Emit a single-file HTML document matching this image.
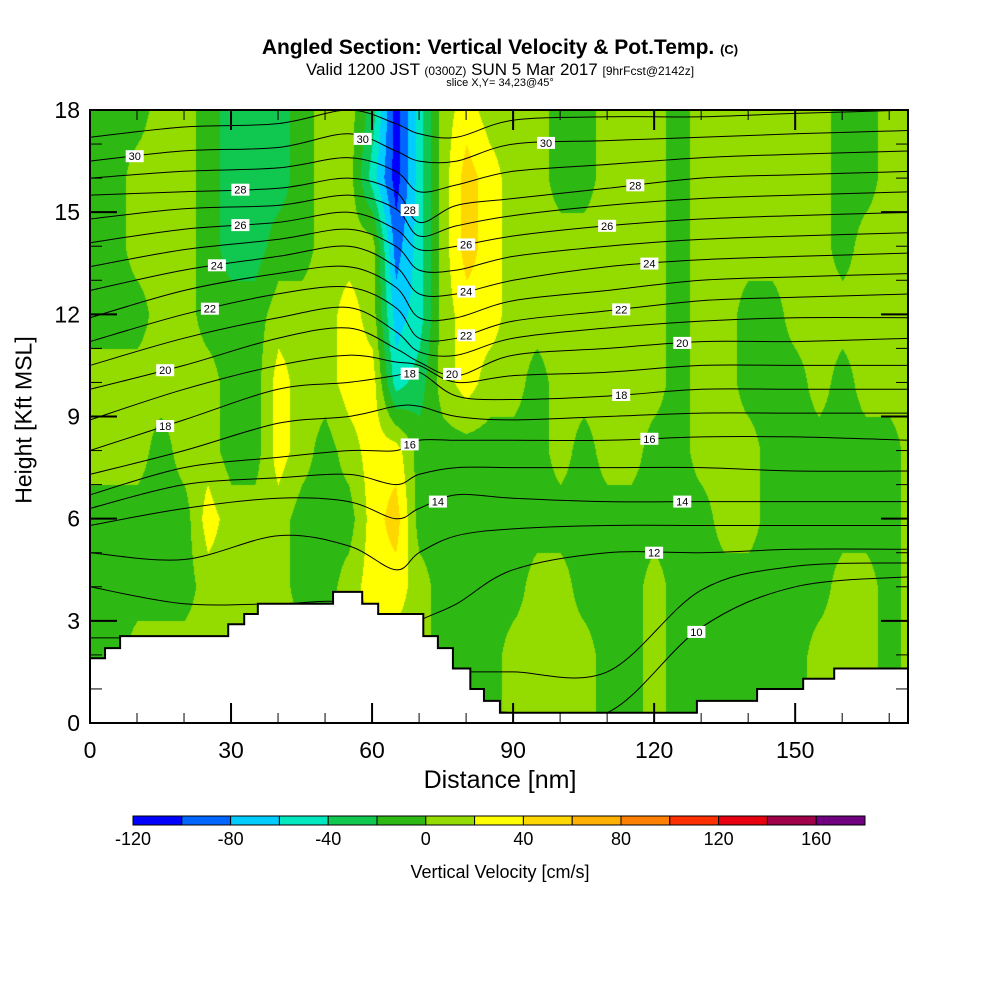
<!DOCTYPE html>
<html><head><meta charset="utf-8">
<style>
html,body{margin:0;padding:0;background:#fff;}
body{width:1000px;height:1000px;position:relative;overflow:hidden;font-family:"Liberation Sans",sans-serif;}
.t{position:absolute;white-space:nowrap;color:#000;}
canvas{position:absolute;left:90px;top:110px;}
svg{position:absolute;left:0;top:0;}
</style></head>
<body>
<div class="t" style="left:0;width:1000px;text-align:center;top:36px;font-size:21px;font-weight:bold;">Angled Section: Vertical Velocity &amp; Pot.Temp. <span style="font-size:13px">(C)</span></div>
<div class="t" style="left:0;width:1000px;text-align:center;top:60px;font-size:17px;">Valid 1200 JST <span style="font-size:12px">(0300Z)</span> SUN 5 Mar 2017 <span style="font-size:12px">[9hrFcst@2142z]</span></div>
<div class="t" style="left:0;width:1000px;text-align:center;top:77px;font-size:11px;">slice X,Y= 34,23@45°</div>
<canvas id="field" width="818" height="613"></canvas>
<svg id="svg" width="1000" height="1000"></svg>
<div class="t" style="left:0;width:1000px;text-align:center;top:766px;font-size:25px;">Distance [nm]</div>
<div class="t" style="left:24px;top:420px;font-size:23px;transform:translate(-50%,-50%) rotate(-90deg);">Height [Kft MSL]</div>
<div class="t" style="left:0;width:1000px;text-align:center;top:862px;font-size:18px;">Vertical Velocity [cm/s]</div>
<script>
// ---- data ----
const xTickLabels = [0, 30, 60, 90, 120, 150];
const yTickLabels = [0, 3, 6, 9, 12, 15, 18];
const cbLevels = [-120, -100, -80, -60, -40, -20, 0, 20, 40, 60, 80, 100, 120, 140, 160, 180];
const cbColors = ["#0000ff","#0066ff","#00ccff","#00e8c0","#10c850","#2db814","#94dc00","#ffff00","#ffd700","#ffb000","#ff8000","#ff3000","#e80010","#a00048","#700080"];
const cbTickLabels = [-120, -80, -40, 0, 40, 80, 120, 160];
// velocity grid: columns x = 0..175 nm step 5, rows y = 18..0 kft step 2
const gridX = [0,5,10,15,20,25,30,35,40,45,50,55,60,65,70,75,80,85,90,95,100,105,110,115,120,125,130,135,140,145,150,155,160,165,170,175];
const gridY = [18,16,14,12,10,8,6,4,2,0];
const velCodes = {a:-110,b:-90,c:-70,d:-50,e:-30,f:-10,g:10,h:30,i:50};
// each row: 5-column chunks (0-20, 25-45, 50-70, 75-95, 100-120, 125-145, 150-170, 175)
const velRows = [
 ["fffgg","feeef","ggead","ghggg","ffggg","fgggg","ggffg","g"],
 ["ffggg","feeef","ggdad","gihgg","ffggg","fgggg","ggffg","g"],
 ["ffggg","feeff","gggbd","gihgg","ggggg","fgggg","ggfgg","g"],
 ["fffgg","fffgg","ghgcd","ghhgg","ggggg","fggff","ggggg","g"],
 ["ggggg","gffhg","ghhde","ghggf","ggggg","fggff","fgfgg","g"],
 ["gggfg","gffhg","fghhf","fffff","gfggf","fgggf","fffff","g"],
 ["fffff","hgggf","ffhif","fffff","fffff","ffggf","fffff","g"],
 ["fffff","ggggf","fghhg","ffffg","gfffg","fffff","ffggf","g"],
 ["ffggg","ggggg","ggggg","fffgg","ggffg","fffff","fgggf","g"],
 ["ffggg","ggggg","ggggg","fffgg","ggffg","fffff","fgggf","g"]
];
// potential temperature contours (deg C): heights (kft) at thetaX nodes (nm)
const thetaX = [0,20,40,55,65,70,78,90,110,130,150,175];
const thetaLevels = [10,11,12,13,14,15,16,17,18,19,20,21,22,23,24,25,26,27,28,29,30,31];
const thetaH = [
 [1,1,1,1,1,0.5,0.5,0.3,0.3,2.8,4.0,4.3],
 [2.5,2.5,2.5,2.5,2,1.5,1.5,1.5,1.5,3.9,4.6,4.7],
 [4.0,3.5,3.5,3.5,2.5,3,3.5,4.5,5.0,5.0,5.1,5.1],
 [5.0,4.8,5.5,5.2,4.5,5,5.5,5.7,5.8,5.8,5.8,5.8],
 [5.8,6.3,6.6,6.5,6.0,6.3,6.7,6.6,6.5,6.5,6.5,6.5],
 [6.3,7.0,7.2,7.3,7.0,7.3,7.5,7.5,7.5,7.5,7.4,7.4],
 [6.7,7.5,7.8,8.0,8.0,8.3,8.3,8.3,8.3,8.4,8.4,8.3],
 [7.3,8.0,8.8,9.0,9.3,9.3,9.0,8.9,9.0,9.1,9.1,9.1],
 [8.0,8.9,9.8,10.0,10.2,10.3,9.6,9.5,9.6,9.8,9.8,9.8],
 [8.9,9.8,10.5,10.8,10.6,10.5,10.0,10.2,10.3,10.5,10.5,10.5],
 [9.8,10.5,11.3,11.6,11.0,10.6,10.2,10.8,11.0,11.2,11.2,11.3],
 [10.5,11.3,11.9,12.2,11.5,10.9,10.8,11.3,11.6,11.8,11.9,11.9],
 [11.2,12.0,12.6,12.8,12.2,11.3,11.3,11.8,12.1,12.4,12.5,12.6],
 [11.9,12.7,13.2,13.4,12.8,11.9,11.9,12.4,12.7,13.0,13.1,13.2],
 [12.7,13.3,13.7,14.0,13.4,12.6,12.6,13.0,13.4,13.6,13.7,13.8],
 [13.4,13.9,14.2,14.5,14.0,13.3,13.3,13.7,14.0,14.2,14.3,14.4],
 [14.1,14.5,14.7,15.0,14.5,13.9,14.0,14.3,14.6,14.8,14.9,15.0],
 [14.8,15.1,15.2,15.5,15.1,14.3,14.6,14.9,15.2,15.4,15.5,15.6],
 [15.5,15.6,15.7,16.0,15.6,14.7,15.2,15.4,15.7,16.0,16.1,16.2],
 [16.0,16.2,16.3,16.6,16.2,15.6,15.8,16.2,16.4,16.6,16.7,16.8],
 [16.5,16.8,16.9,17.3,16.8,16.5,16.5,17.0,17.1,17.2,17.3,17.4],
 [17.2,17.5,17.6,18.0,17.6,17.3,17.2,17.7,17.8,17.8,17.9,18.0]
];
const labelLevels = [30,28,26,24,22,20,18, 30,28,26,24,22,20,18,16,14,12,10, 30,28,26,24,22,20,18,16,14];
const labelXs     = [9.5,32,32,27,25.5,16,16, 97,116,110,119,113,126,113,119,126,120,129, 58,68,80,80,80,77,68,68,74];
// terrain steps: start x (nm) and height (kft)
const terrainX = [0,3.2,6.4,29.4,32.8,35.7,51.7,57.9,61.3,70.9,74.0,77.2,80.9,83.8,87.2,129.1,141.9,151.7,158.3];
const terrainH = [1.9,2.2,2.55,2.9,3.2,3.5,3.85,3.5,3.2,2.55,2.2,1.6,1.0,0.65,0.3,0.65,1.0,1.3,1.6];

// ---- axes ----
const PL=90, PT=110, PW=818, PH=613, XMAX=174, YMAX=18;
const sx = v => PL + v/XMAX*PW;
const sy = v => PT + PH - v/YMAX*PH;
const NS="http://www.w3.org/2000/svg";
const svg=document.getElementById('svg');
function mk(tag, attrs, parent){const e=document.createElementNS(NS,tag);for(const k in attrs)e.setAttribute(k,attrs[k]);(parent||svg).appendChild(e);return e;}

// ---- field ----
const vals = velRows.map(r=>r.join('').split('').map(c=>velCodes[c]));
function hex(c){return [parseInt(c.substr(1,2),16),parseInt(c.substr(3,2),16),parseInt(c.substr(5,2),16)];}
const cv=document.getElementById('field');const ctx=cv.getContext('2d');
const img=ctx.createImageData(PW,PH);
const rgb=cbColors.map(hex);
for(let py=0;py<PH;py++){
  const yk=(PH-py)/PH*YMAX; let fr=(18-yk)/2; let r0=Math.min(Math.floor(fr),8); let ty=fr-r0;
  for(let px=0;px<PW;px++){
    const xn=px/PW*XMAX; let fc=xn/5; let c0=Math.min(Math.floor(fc),34); let tx=fc-c0;
    const v=(vals[r0][c0]*(1-tx)+vals[r0][c0+1]*tx)*(1-ty)+(vals[r0+1][c0]*(1-tx)+vals[r0+1][c0+1]*tx)*ty;
    let i=Math.floor((v+120)/20);if(i<0)i=0;if(i>14)i=14;
    const o=(py*PW+px)*4;img.data[o]=rgb[i][0];img.data[o+1]=rgb[i][1];img.data[o+2]=rgb[i][2];img.data[o+3]=255;
  }
}
ctx.putImageData(img,0,0);

// ---- clip ----
const defs=mk('defs',{});const cp=mk('clipPath',{id:'plotclip'},defs);mk('rect',{x:PL,y:PT,width:PW,height:PH},cp);
const cg=mk('g',{'clip-path':'url(#plotclip)'});



// ---- theta contours ----
function thetaY(li,x){for(let k=0;k<thetaX.length-1;k++){if(x<=thetaX[k+1]){const t=(x-thetaX[k])/(thetaX[k+1]-thetaX[k]);return thetaH[li][k]*(1-t)+thetaH[li][k+1]*t;}}return thetaH[li][thetaH[li].length-1];}
thetaLevels.forEach((lv,li)=>{
  const pts=thetaX.map((x,k)=>[sx(x),sy(thetaH[li][k])]);
  let d='M'+pts[0][0]+','+pts[0][1];
  for(let k=0;k<pts.length-1;k++){
    const p0=pts[Math.max(k-1,0)],p1=pts[k],p2=pts[k+1],p3=pts[Math.min(k+2,pts.length-1)];
    const c1=[p1[0]+(p2[0]-p0[0])/6,p1[1]+(p2[1]-p0[1])/6],c2=[p2[0]-(p3[0]-p1[0])/6,p2[1]-(p3[1]-p1[1])/6];
    d+=' C'+c1[0].toFixed(1)+','+c1[1].toFixed(1)+' '+c2[0].toFixed(1)+','+c2[1].toFixed(1)+' '+p2[0].toFixed(1)+','+p2[1].toFixed(1);
  }
  const p=mk('path',{d:d,fill:'none',stroke:'#000','stroke-width':1},cg);
  
  
});

// ---- terrain ----
let td='M'+sx(0)+','+sy(0);
terrainX.forEach((x,k)=>{const x2=k<terrainX.length-1?terrainX[k+1]:XMAX;td+=' L'+sx(x)+','+sy(terrainH[k])+' L'+sx(x2)+','+sy(terrainH[k]);});
td+=' L'+sx(XMAX)+','+sy(0)+' Z';
const tp=mk('path',{d:td,fill:'#fff',stroke:'#000','stroke-width':2},cg);



// ---- contour labels ----
labelLevels.forEach((lv,k)=>{
  const li=thetaLevels.indexOf(lv);const x=labelXs[k];const yv=thetaY(li,x);
  const X=sx(x),Y=sy(yv);
  const g=mk('g',{transform:'translate('+X.toFixed(1)+','+Y.toFixed(1)+')'});
  
  
  mk('rect',{x:-9,y:-6,width:18,height:12,fill:'#fff'},g);
  const t=mk('text',{x:0,y:4,'text-anchor':'middle','font-size':11,'font-family':'Liberation Sans, sans-serif'},g);
  t.textContent=lv;
});

// ---- frame and ticks ----
const fr=mk('rect',{x:PL,y:PT,width:PW,height:PH,fill:'none',stroke:'#000','stroke-width':2});


for(let v=0;v<=170;v+=10){
  const major=v%30===0;const L=major?20:10;const X=sx(v);
  mk('line',{x1:X,y1:PT+PH,x2:X,y2:PT+PH-L,stroke:'#000','stroke-width':major?2:1});
  mk('line',{x1:X,y1:PT,x2:X,y2:PT+L,stroke:'#000','stroke-width':major?2:1});
}
for(let v=0;v<=18;v+=1){
  const major=v%3===0;const L=major?27:12;const Y=sy(v);
  mk('line',{x1:PL,y1:Y,x2:PL+L,y2:Y,stroke:'#000','stroke-width':major?2:1});
  mk('line',{x1:PL+PW,y1:Y,x2:PL+PW-L,y2:Y,stroke:'#000','stroke-width':major?2:1});
}
xTickLabels.forEach(v=>{
  const t=mk('text',{x:sx(v),y:758,'text-anchor':'middle','font-size':23,'font-family':'Liberation Sans, sans-serif'});
  
  
  t.textContent=v;
});
yTickLabels.forEach(v=>{
  const t=mk('text',{x:80,y:sy(v)+8,'text-anchor':'end','font-size':23,'font-family':'Liberation Sans, sans-serif'});
  
  
  t.textContent=v;
});

// ---- colorbar ----
const CBL=133, CBW=732, CBT=816, CBH=9;
const cbx = v => CBL + (v-cbLevels[0])/(cbLevels[cbLevels.length-1]-cbLevels[0])*CBW;
cbColors.forEach((c,k)=>{
  const r=mk('rect',{x:cbx(cbLevels[k]),y:CBT,width:cbx(cbLevels[k+1])-cbx(cbLevels[k]),height:CBH,fill:c,stroke:'#000','stroke-width':1});
  
  
});
cbTickLabels.forEach(v=>{
  const t=mk('text',{x:cbx(v),y:845,'text-anchor':'middle','font-size':18,'font-family':'Liberation Sans, sans-serif'});
  
  
  t.textContent=v;
});
</script>
</body></html>
